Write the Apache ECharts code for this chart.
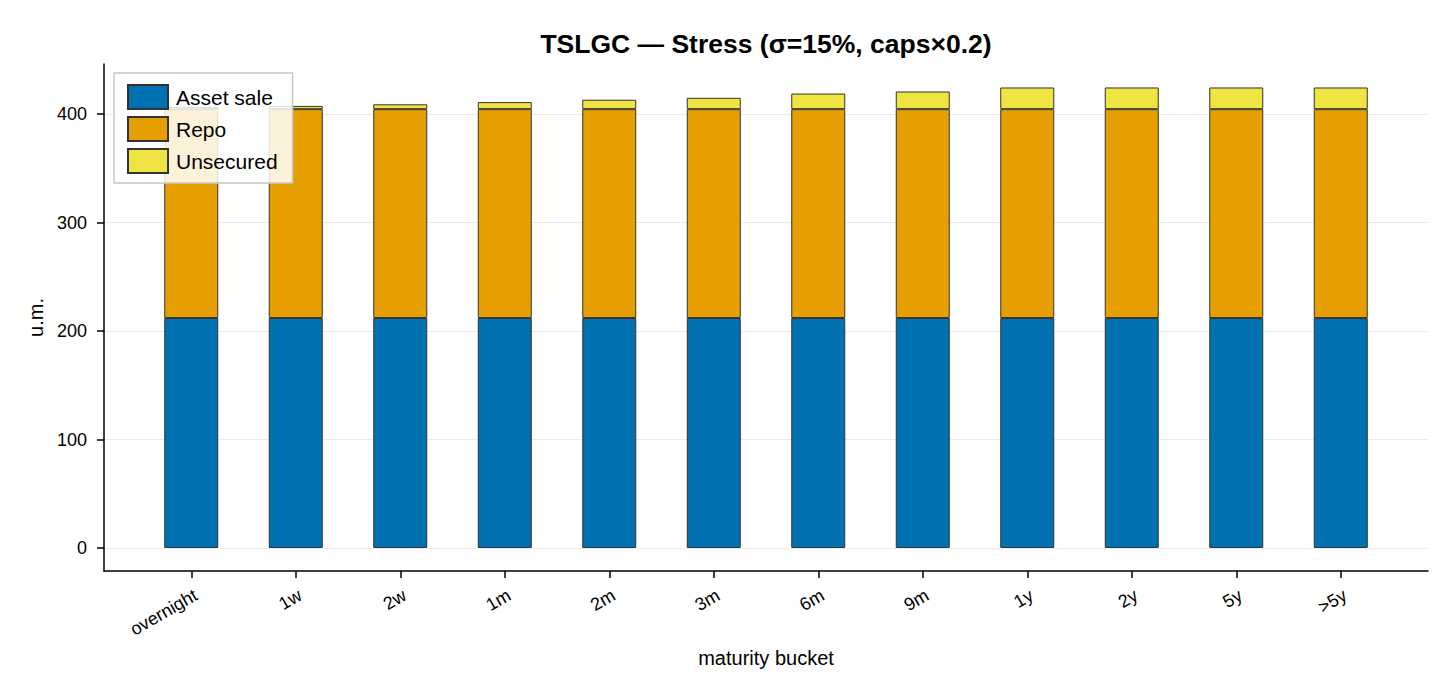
<!DOCTYPE html>
<html>
<head>
<meta charset="utf-8">
<script src="https://cdn.jsdelivr.net/npm/echarts@6/dist/echarts.min.js"></script>
<style>
html,body{margin:0;padding:0;background:#fff;}
#chart{width:1456px;height:695px;}
</style>
</head>
<body>
<div id="chart"></div>
<script>
const categories = ['overnight','1w','2w','1m','2m','3m','6m','9m','1y','2y','5y','>5y'];
const assetSale = [212,212,212,212,212,212,212,212,212,212,212,212];
const repo      = [192.6,192.6,192.6,192.6,192.6,192.6,192.6,192.6,192.6,192.6,192.6,192.6];
const unsecured = [2,3,4.5,6.5,8.7,10.5,14.4,16.3,20,20,20,20];
const yTicks = [0,100,200,300,400];
const yMin = -21.25, yMax = 446.25;

const FONT = 'Liberation Sans';
const chart = echarts.init(document.getElementById('chart'), null, {renderer:'svg'});

const barStyle = c => ({color:c, borderColor:'#333', borderWidth:1});

const option = {
  animation:false,
  backgroundColor:'#fff',
  textStyle:{fontFamily:FONT},
  title:{
    text:'TSLGC — Stress (σ=15%, caps×0.2)',
    left:766, top:30, padding:0, textAlign:'center',
    textStyle:{fontFamily:FONT, fontSize:26.5, fontWeight:'bold', color:'#000'}
  },
  legend:{
    orient:'vertical', left:114, top:73,
    padding:[11,15,9,13],
    itemWidth:40, itemHeight:24, itemGap:6,
    backgroundColor:'rgba(255,255,255,0.85)',
    borderColor:'#c8c8c8', borderWidth:1.5,
    icon:'rect',
    textStyle:{fontFamily:FONT, fontSize:21, lineHeight:24, color:'#000', padding:[0,0,0,3]},
    data:['Asset sale','Repo','Unsecured'],
    z:10
  },
  grid:[
    {left:104, right:28, top:64, bottom:124},
    {left:139, right:63, top:64, bottom:124}
  ],
  xAxis:[
    {type:'value', gridIndex:0, min:0, max:1,
     axisLine:{show:true, onZero:false, lineStyle:{color:'#000', width:1.5}},
     axisTick:{show:false}, axisLabel:{show:false}, splitLine:{show:false},
     name:'maturity bucket', nameLocation:'middle', nameGap:77,
     nameTextStyle:{fontFamily:FONT, fontSize:20, color:'#000'}},
    {type:'category', gridIndex:1, data:categories,
     axisLine:{show:false, onZero:false},
     axisTick:{show:true, alignWithLabel:true, length:7, lineStyle:{color:'#000', width:1.5}},
     axisLabel:{rotate:30, fontFamily:FONT, fontSize:18, color:'#000', margin:15,
                verticalAlign:'top', interval:0},
     splitLine:{show:false}}
  ],
  yAxis:[
    {type:'value', gridIndex:0, min:yMin, max:yMax,
     axisLine:{show:true, onZero:false, lineStyle:{color:'#000', width:1.5}},
     axisTick:{show:true, length:7, customValues:yTicks, lineStyle:{color:'#000', width:1.5}},
     axisLabel:{customValues:yTicks, fontFamily:FONT, fontSize:18, color:'#000', margin:17},
     splitLine:{show:false},
     name:'u.m.', nameLocation:'middle', nameGap:58,
     nameTextStyle:{fontFamily:FONT, fontSize:20, color:'#000'}},
    {type:'value', gridIndex:1, min:yMin, max:yMax, show:false, splitLine:{show:false}}
  ],
  series:[
    {type:'line', xAxisIndex:0, yAxisIndex:0, data:[], z:0, silent:true,
     markLine:{silent:true, z:0, symbol:'none', label:{show:false},
       lineStyle:{color:'#ebebeb', width:1, type:'solid'},
       data: yTicks.map(v => ({yAxis:v}))}},
    {name:'Asset sale', type:'bar', stack:'total', xAxisIndex:1, yAxisIndex:1, barWidth:54,
     itemStyle:barStyle('#0072B2'), data:assetSale, z:2},
    {name:'Repo', type:'bar', stack:'total', xAxisIndex:1, yAxisIndex:1, barWidth:54,
     itemStyle:barStyle('#E69F00'), data:repo, z:2},
    {name:'Unsecured', type:'bar', stack:'total', xAxisIndex:1, yAxisIndex:1, barWidth:54,
     itemStyle:barStyle('#F0E442'), data:unsecured, z:2}
  ]
};
chart.setOption(option);
</script>
</body>
</html>
